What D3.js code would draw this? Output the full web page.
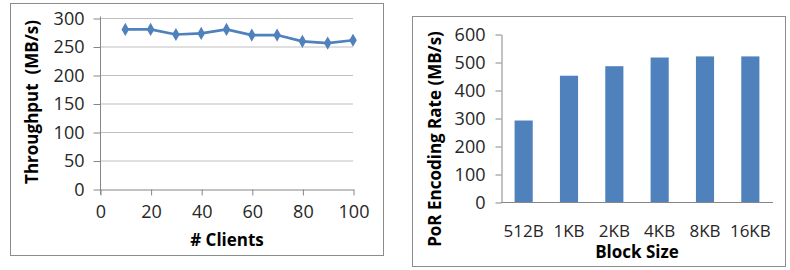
<!DOCTYPE html>
<html>
<head>
<meta charset="utf-8">
<script src="https://cdn.jsdelivr.net/npm/d3@7"></script>
<style>
  body { margin: 0; background: #fff; }
  text { font-family: "Open Sans", sans-serif; }
</style>
</head>
<body>
<script>
'use strict';

// Left chart: throughput vs number of clients
var clients = [10, 20, 30, 40, 50, 60, 70, 80, 90, 100];
var throughput = [280, 280, 271, 273, 280, 270, 270, 259, 256, 261];
var clientTicks = [0, 20, 40, 60, 80, 100];
var throughputTicks = [0, 50, 100, 150, 200, 250, 300];

// Right chart: encoding rate vs block size
var blockSizes = ["512B", "1KB", "2KB", "4KB", "8KB", "16KB"];
var encodingRate = [291, 451, 485, 516, 520, 520];
var rateTicks = [0, 100, 200, 300, 400, 500, 600];

(function() {

  var width = 790;
  var height = 270;
  var blue = "#4F81BD";
  var axisGray = "#868686";
  var gridGray = "#bfbfbf";
  var textCol = "#262626";

  var svg = d3.select("body")
      .append("svg")
      .attr("width", width)
      .attr("height", height);

  // ---------- left chart ----------
  svg.append("rect")
      .attr("x", 10.5).attr("y", 3.5)
      .attr("width", 373).attr("height", 252)
      .attr("fill", "none").attr("stroke", "#8c8c8c");

  var x1 = d3.scaleLinear().domain([0, 100]).range([100, 353]);
  var y1 = d3.scaleLinear().domain([0, 300]).range([189, 18]);

  var left = svg.append("g");

  // gridlines
  left.selectAll(".grid")
      .data(throughputTicks.filter(function(d) { return d > 0; }))
      .enter()
      .append("line")
      .attr("x1", x1(0)).attr("x2", x1(100))
      .attr("y1", function(d) { return y1(d) + 0.5; })
      .attr("y2", function(d) { return y1(d) + 0.5; })
      .attr("stroke", gridGray);

  var yAxis1 = left.append("g")
      .attr("transform", "translate(" + (x1(0) + 0.5) + ",0.5)")
      .call(d3.axisLeft(y1).tickValues(throughputTicks).tickSizeInner(7).tickSizeOuter(0).tickPadding(9));

  var xAxis1 = left.append("g")
      .attr("transform", "translate(0.5," + (y1(0) + 0.5) + ")")
      .call(d3.axisBottom(x1).tickValues(clientTicks).tickSizeInner(6).tickSizeOuter(0).tickPadding(10));

  [yAxis1, xAxis1].forEach(function(a) {
    a.select(".domain").attr("stroke", axisGray);
    a.selectAll(".tick line").attr("stroke", axisGray);
    a.selectAll(".tick text")
        .attr("font-family", "Open Sans, sans-serif")
        .attr("font-size", 18)
        .attr("fill", textCol);
  });
  yAxis1.select(".domain").attr("d", "M0," + (y1(300) - 2) + "V" + (y1(0) + 5));

  var line = d3.line()
      .x(function(d, i) { return x1(clients[i]); })
      .y(function(d) { return y1(d); });

  left.append("path")
      .datum(throughput)
      .attr("d", line)
      .attr("fill", "none")
      .attr("stroke", blue)
      .attr("stroke-width", 2.6);

  left.selectAll(".pt")
      .data(throughput)
      .enter()
      .append("path")
      .attr("d", d3.symbol().type(d3.symbolDiamond).size(50))
      .attr("transform", function(d, i) {
        return "translate(" + x1(clients[i]) + "," + y1(d) + ")";
      })
      .attr("fill", blue);

  left.append("text")
      .attr("x", 227).attr("y", 246)
      .attr("text-anchor", "middle")
      .attr("font-size", 17).attr("font-weight", "bold")
      .attr("fill", "#000")
      .text("# Clients");

  left.append("text")
      .attr("transform", "translate(38,102) rotate(-90)")
      .attr("text-anchor", "middle")
      .attr("font-size", 17).attr("font-weight", "bold")
      .attr("fill", "#000")
      .attr("xml:space", "preserve")
      .text("Throughput  (MB/s)");

  // ---------- right chart ----------
  svg.append("rect")
      .attr("x", 412.5).attr("y", 16.5)
      .attr("width", 373).attr("height", 250)
      .attr("fill", "none").attr("stroke", "#8c8c8c");

  var x2 = d3.scaleBand().domain(blockSizes).range([501, 773]).paddingInner(0.6).paddingOuter(0.3);
  var y2 = d3.scaleLinear().domain([0, 600]).range([202, 34]);

  var right = svg.append("g");

  right.selectAll(".bar")
      .data(encodingRate)
      .enter()
      .append("rect")
      .attr("x", function(d, i) { return x2(blockSizes[i]); })
      .attr("y", function(d) { return y2(d); })
      .attr("width", x2.bandwidth())
      .attr("height", function(d) { return y2(0) - y2(d); })
      .attr("fill", blue);

  var yAxis2 = right.append("g")
      .attr("transform", "translate(501.5,0.5)")
      .call(d3.axisLeft(y2).tickValues(rateTicks).tickSizeInner(6).tickSizeOuter(0).tickPadding(10));

  var xAxis2 = right.append("g")
      .attr("transform", "translate(0," + (y2(0) + 0.5) + ")")
      .call(d3.axisBottom(x2).tickSize(0).tickPadding(22));

  [yAxis2, xAxis2].forEach(function(a) {
    a.select(".domain").attr("stroke", axisGray);
    a.selectAll(".tick line").attr("stroke", axisGray);
    a.selectAll(".tick text")
        .attr("font-family", "Open Sans, sans-serif")
        .attr("font-size", 17)
        .attr("fill", textCol);
  });
  yAxis2.selectAll(".tick text").attr("font-size", 18);
  xAxis2.select(".domain").attr("d", "M501,0H773");

  right.append("text")
      .attr("x", 637).attr("y", 258)
      .attr("text-anchor", "middle")
      .attr("font-size", 17).attr("font-weight", "bold")
      .attr("fill", "#000")
      .text("Block Size");

  right.append("text")
      .attr("transform", "translate(441,139) rotate(-90)")
      .attr("text-anchor", "middle")
      .attr("font-size", 17).attr("font-weight", "bold")
      .attr("fill", "#000")
      .text("PoR Encoding Rate (MB/s)");

})();
</script>
</body>
</html>
